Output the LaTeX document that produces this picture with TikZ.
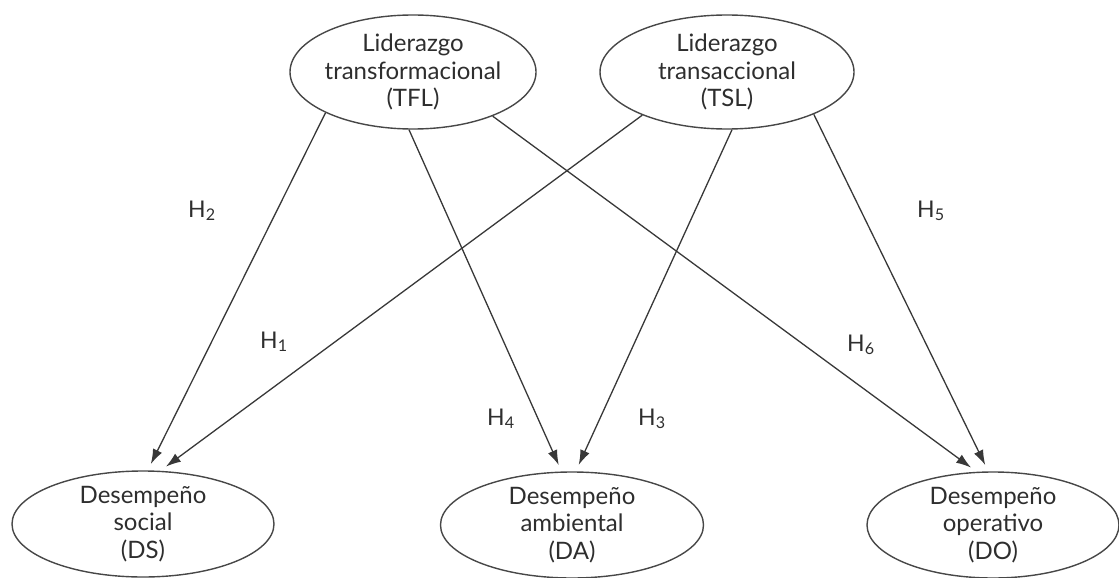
\documentclass[tikz,border=0pt]{standalone}
\usepackage{fontspec}
\setmainfont{Lato}
\usetikzlibrary{arrows.meta,shapes.geometric}
\begin{document}
\begin{tikzpicture}[x=1pt,y=-1pt,
  ell/.style={draw=black!72, line width=1.4pt, ellipse, inner xsep=-40pt, inner ysep=-6pt,
    align=center, font=\fontsize{24}{27.5}\selectfont, text=black!82},
  conn/.style={draw=black!78, line width=1.3pt, -{Latex[length=15pt,width=10pt]}, shorten >=7pt},
  hlab/.style={anchor=base west, inner sep=0pt, font=\fontsize{23}{26}\selectfont, text=black!82}]
\useasboundingbox (0,0) rectangle (1119,578);
% top ellipses
\node[ell, minimum width=246pt, minimum height=114pt] (tfl) at (413,72) {Liderazgo\\transformacional\\(TFL)};
\node[ell, minimum width=254pt, minimum height=114pt] (tsl) at (727,72) {Liderazgo\\transaccional\\(TSL)};
% bottom ellipses
\node[ell, minimum width=262pt, minimum height=106pt] (ds) at (143,524) {Desempeño\\social\\(DS)};
\node[ell, minimum width=263pt, minimum height=106pt] (da) at (572,525) {Desempeño\\ambiental\\(DA)};
\node[ell, minimum width=252pt, minimum height=106pt] (do) at (993,525) {Desempeño\\operativo\\(DO)};
% connectors
\draw[conn] (tfl.205) -- (ds.85);
\draw[conn] (tfl.266) -- (da.101);
\draw[conn] (tfl.331) -- (do.107);
\draw[conn] (tsl.207) -- (ds.72);
\draw[conn] (tsl.275) -- (da.86);
\draw[conn] (tsl.334) -- (do.95);
% labels
\node[hlab] (h2) at (188,217) {H\textsubscript{2}};
\node[hlab] (h1) at (260,348) {H\textsubscript{1}};
\node[hlab] (h4) at (487,425) {H\textsubscript{4}};
\node[hlab] (h3) at (638,425) {H\textsubscript{3}};
\node[hlab] (h6) at (847,351) {H\textsubscript{6}};
\node[hlab] (h5) at (917,217) {H\textsubscript{5}};
\end{tikzpicture}
\end{document}
